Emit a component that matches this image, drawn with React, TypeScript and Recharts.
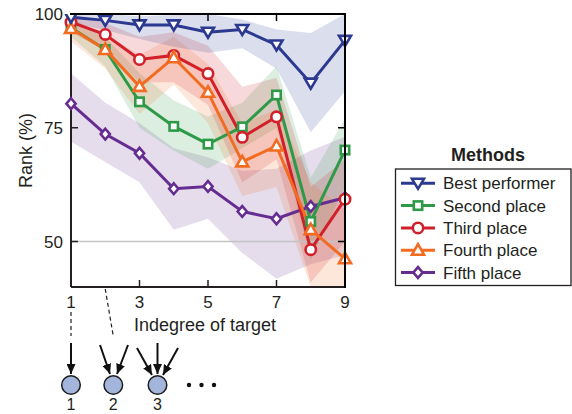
import { Area, ComposedChart, Line, ReferenceLine, XAxis, YAxis } from "recharts";

const indegree = [1, 2, 3, 4, 5, 6, 7, 8, 9];
const xTicks = [1, 3, 5, 7, 9];
const yTicks = [50, 75, 100];
const topTicks = [3, 5, 7];
const rightTicks = [50, 75];

// mean rank per method, with the shaded spread around it
const bestPerformer = [99.3, 98.6, 97.6, 97.6, 96.0, 96.6, 93.2, 84.8, 94.2];
const bestLow = [98, 96.5, 94.5, 92.8, 91.5, 92.5, 88, 74, 83];
const bestHigh = [100, 100, 99.5, 99.8, 100, 98.8, 96.6, 95.8, 100];

const secondPlace = [97.0, 92.2, 80.7, 75.3, 71.4, 75.2, 82.2, 54.4, 70.1];
const secondLow = [95, 88.5, 75, 70, 66, 70.5, 75, 46, 62];
const secondHigh = [99, 95, 87, 81, 77.5, 80.5, 88.5, 64, 77];

const thirdPlace = [98.2, 95.5, 90.0, 90.9, 86.9, 72.9, 77.4, 48.2, 59.3];
const thirdLow = [96, 92, 85, 85, 80, 63, 68, 41, 50];
const thirdHigh = [100, 98, 95, 96, 93, 84, 86, 62, 68];

const fourthPlace = [96.8, 92.2, 84.1, 90.4, 82.8, 67.5, 71.0, 52.6, 46.2];
const fourthLow = [94, 88, 78, 84.5, 76, 60, 62, 40, 40];
const fourthHigh = [99, 95.5, 91, 95, 89, 76, 79, 63, 57];

const fifthPlace = [80.3, 73.6, 69.4, 61.6, 62.1, 56.6, 55.0, 57.7, 59.6];
const fifthLow = [72, 67.5, 63, 52.6, 55, 47.5, 41.8, 45, 47];
const fifthHigh = [87, 80.5, 76, 70.5, 68.5, 65.5, 66, 70, 73];

const ink = "#231f20";
const font = "'Liberation Sans', Arial, Helvetica, sans-serif";

type Kind = "triDown" | "square" | "circle" | "triUp" | "diamond";

const series = [
  { key: "best", name: "Best performer", color: "#2b3990", kind: "triDown" as Kind, values: bestPerformer, low: bestLow, high: bestHigh },
  { key: "second", name: "Second place", color: "#2e9a48", kind: "square" as Kind, values: secondPlace, low: secondLow, high: secondHigh },
  { key: "third", name: "Third place", color: "#d2202a", kind: "circle" as Kind, values: thirdPlace, low: thirdLow, high: thirdHigh },
  { key: "fourth", name: "Fourth place", color: "#f26b21", kind: "triUp" as Kind, values: fourthPlace, low: fourthLow, high: fourthHigh },
  { key: "fifth", name: "Fifth place", color: "#662d91", kind: "diamond" as Kind, values: fifthPlace, low: fifthLow, high: fifthHigh },
];

// later in the list = drawn on top
const drawOrder = ["fifth", "second", "third", "fourth", "best"];

const data = indegree.map((x, i) => {
  const row: Record<string, any> = { x };
  series.forEach((s) => {
    row[s.key] = s.values[i];
    row[s.key + "Band"] = [s.low[i], s.high[i]];
  });
  return row;
});

function Marker({ kind, cx, cy, color }: { kind: Kind; cx: number; cy: number; color: string }) {
  const common = { fill: "#fff", stroke: color, strokeWidth: 2.6, strokeLinejoin: "miter" as const };
  if (kind === "triDown")
    return <polygon points={`${cx - 6},${cy - 4.5} ${cx + 6},${cy - 4.5} ${cx},${cy + 5.5}`} {...common} />;
  if (kind === "triUp")
    return <polygon points={`${cx},${cy - 6} ${cx + 6},${cy + 4.5} ${cx - 6},${cy + 4.5}`} {...common} />;
  if (kind === "square") return <rect x={cx - 4.2} y={cy - 4.2} width={8.4} height={8.4} {...common} />;
  if (kind === "circle") return <circle cx={cx} cy={cy} r={5.2} {...common} />;
  return <polygon points={`${cx},${cy - 5.4} ${cx + 4.6},${cy} ${cx},${cy + 5.4} ${cx - 4.6},${cy}`} {...common} />;
}

// plot box (matches the chart margins below)
const plotLeft = 71;
const plotRight = 345;
const plotTop = 14;
const plotBottom = 287;
const px = (v: number) => plotLeft + ((v - 1) * (plotRight - plotLeft)) / 8;
const py = (v: number) => plotBottom - ((v - 40) * (plotBottom - plotTop)) / 60;

const nodes = [1, 2, 3];

function Overlay() {
  const legendTop = 169;
  const rowH = 22.3;
  return (
    <svg width={572} height={414} style={{ position: "absolute", left: 0, top: 0, pointerEvents: "none" }}>
      <defs>
        <marker id="head" markerUnits="userSpaceOnUse" markerWidth={10} markerHeight={9} refX={10} refY={4.5} orient="auto">
          <path d="M0,0 L10,4.5 L0,9 z" fill="#111" />
        </marker>
      </defs>

      {/* plot frame: top and right edges with inward ticks */}
      <path
        d={`M${plotLeft},${plotTop} H${plotRight} V${plotBottom}`}
        fill="none"
        stroke="#000"
        strokeWidth={2}
        strokeLinecap="square"
      />
      {topTicks.map((t) => (
        <path key={"t" + t} d={`M${px(t)},${plotTop} V${plotTop + 7}`} stroke="#000" strokeWidth={1.5} />
      ))}
      {rightTicks.map((t) => (
        <path key={"r" + t} d={`M${plotRight - 7},${py(t)} H${plotRight}`} stroke="#000" strokeWidth={1.5} />
      ))}

      {/* legend */}
      <text x={488} y={161} textAnchor="middle" fontFamily={font} fontWeight="bold" fontSize={18} fill={ink}>
        Methods
      </text>
      <rect x={395.5} y={legendTop} width={175.5} height={116.5} fill="#fff" stroke={ink} strokeWidth={1.3} />
      {series.map((s, i) => {
        const cy = legendTop + 14.3 + i * rowH;
        return (
          <g key={s.key}>
            <line x1={401} x2={435} y1={cy} y2={cy} stroke={s.color} strokeWidth={3} />
            <Marker kind={s.kind} cx={418} cy={cy} color={s.color} />
            <text x={443} y={cy + 6} fontFamily={font} fontSize={17} fill={ink}>
              {s.name}
            </text>
          </g>
        );
      })}

      {/* indegree sketch */}
      <line x1={px(1)} y1={312} x2={px(1)} y2={336} stroke={ink} strokeWidth={1.2} strokeDasharray="4 3" />
      <line x1={px(2)} y1={289} x2={px(2) + 8} y2={336} stroke={ink} strokeWidth={1.2} strokeDasharray="4 3" />

      <line x1={71} y1={343} x2={71} y2={374} stroke="#111" strokeWidth={2} markerEnd="url(#head)" />
      <line x1={100} y1={345} x2={110} y2={374} stroke="#111" strokeWidth={2} markerEnd="url(#head)" />
      <line x1={128} y1={345} x2={117} y2={374} stroke="#111" strokeWidth={2} markerEnd="url(#head)" />
      <line x1={137} y1={348} x2={152} y2={375} stroke="#111" strokeWidth={2} markerEnd="url(#head)" />
      <line x1={157.5} y1={343} x2={157.5} y2={374} stroke="#111" strokeWidth={2} markerEnd="url(#head)" />
      <line x1={178} y1={348} x2={163} y2={375} stroke="#111" strokeWidth={2} markerEnd="url(#head)" />

      {nodes.map((n, i) => {
        const cx = [71, 113.3, 157.5][i];
        return (
          <g key={n}>
            <circle cx={cx} cy={385} r={9.3} fill="#a3b5da" stroke="#1d1d1d" strokeWidth={1.5} />
            <text x={cx} y={410} textAnchor="middle" fontFamily={font} fontSize={16} fill={ink}>
              {n}
            </text>
          </g>
        );
      })}
      {[189, 201.5, 214].map((x) => (
        <circle key={x} cx={x} cy={385} r={2.2} fill="#111" />
      ))}
    </svg>
  );
}

export default function App() {
  const byKey = Object.fromEntries(series.map((s) => [s.key, s]));
  const axisLine = { stroke: ink, strokeWidth: 2 };
  const tickLine = { stroke: ink, strokeWidth: 1.5 };
  const tickText = { fill: ink, fontSize: 17, fontFamily: font };

  return (
    <div style={{ position: "absolute", left: 0, top: 0, width: 572, height: 414, background: "#fff" }}>
      <ComposedChart width={572} height={414} data={data} margin={{ top: 14, right: 227, bottom: 97, left: 11 }}>
        <XAxis
          xAxisId="b"
          dataKey="x"
          type="number"
          domain={[1, 9]}
          ticks={xTicks}
          interval={0}
          height={30}
          tickSize={-7}
          tickMargin={16}
          axisLine={axisLine}
          tickLine={tickLine}
          tick={tickText}
          label={{
            content: ({ viewBox }: any) => (
              <text x={viewBox.x + viewBox.width / 2 - 3} y={331} textAnchor="middle" fontFamily={font} fontSize={18} fill={ink}>
                Indegree of target
              </text>
            ),
          }}
        />
        <YAxis
          yAxisId="l"
          type="number"
          domain={[40, 100]}
          ticks={yTicks}
          interval={0}
          allowDataOverflow
          width={60}
          tickSize={-7}
          tickMargin={15}
          axisLine={axisLine}
          tickLine={tickLine}
          tick={tickText}
          label={{
            content: ({ viewBox }: any) => {
              const x = 32;
              const y = viewBox.y + viewBox.height / 2;
              return (
                <text x={x} y={y} transform={`rotate(-90 ${x} ${y})`} textAnchor="middle" fontFamily={font} fontSize={18} fill={ink}>
                  Rank (%)
                </text>
              );
            },
          }}
        />

        {drawOrder.map((k) => (
          <Area
            key={k + "Band"}
            xAxisId="b"
            yAxisId="l"
            dataKey={k + "Band"}
            stroke="none"
            fill={byKey[k].color}
            fillOpacity={0.17}
            activeDot={false}
            isAnimationActive={false}
          />
        ))}

        <ReferenceLine xAxisId="b" yAxisId="l" y={50} stroke="#c4c4c4" strokeWidth={1.5} />

        {drawOrder.map((k) => {
          const s = byKey[k];
          return (
            <Line
              key={k}
              xAxisId="b"
              yAxisId="l"
              dataKey={k}
              name={s.name}
              stroke={s.color}
              strokeWidth={3}
              dot={(p: any) => <Marker key={k + p.index} kind={s.kind} cx={p.cx} cy={p.cy} color={s.color} />}
              activeDot={false}
              isAnimationActive={false}
            />
          );
        })}
      </ComposedChart>
      <Overlay />
    </div>
  );
}
